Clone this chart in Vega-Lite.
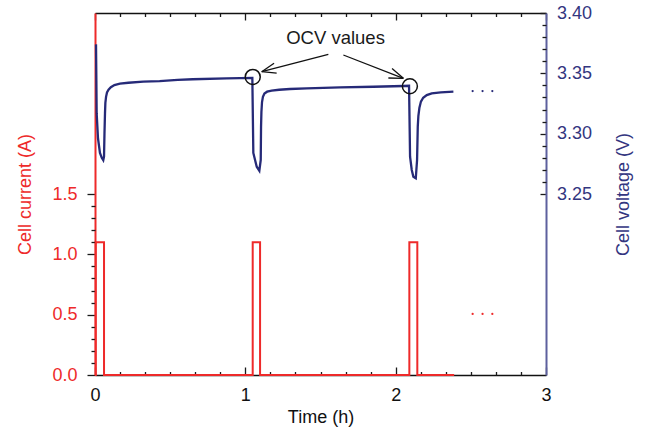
{
  "$schema": "https://vega.github.io/schema/vega-lite/v6.json",
  "width": 451,
  "height": 362,
  "autosize": {"type": "none"},
  "padding": {"left": 95, "top": 13, "right": 108, "bottom": 62},
  "config": {
    "view": {"stroke": null},
    "font": "Liberation Sans",
    "axis": {"grid": false, "labelFlush": false, "labelOverlap": false, "titleFontWeight": "normal", "labelFontSize": 18, "titleFontSize": 18, "tickWidth": 1.3, "tickColor": "#1a1a1a"}
  },
  "resolve": {"scale": {"y": "independent"}, "axis": {"x": "independent", "y": "independent"}},
  "layer": [
    {
      "resolve": {"axis": {"x": "independent", "y": "independent"}},
      "layer": [
        {
          "data": {"values": [
            {"i": 0, "t": 0, "I": 0},
            {"i": 1, "t": 0.005, "I": 0},
            {"i": 2, "t": 0.005, "I": 1.1},
            {"i": 3, "t": 0.06, "I": 1.1},
            {"i": 4, "t": 0.06, "I": 0},
            {"i": 5, "t": 1.049, "I": 0},
            {"i": 6, "t": 1.049, "I": 1.1},
            {"i": 7, "t": 1.098, "I": 1.1},
            {"i": 8, "t": 1.098, "I": 0},
            {"i": 9, "t": 2.091, "I": 0},
            {"i": 10, "t": 2.091, "I": 1.1},
            {"i": 11, "t": 2.144, "I": 1.1},
            {"i": 12, "t": 2.144, "I": 0},
            {"i": 13, "t": 2.389, "I": 0}
          ]},
          "mark": {"type": "line", "color": "#ee2a2a", "strokeWidth": 2},
          "encoding": {
            "x": {"field": "t", "type": "quantitative", "scale": {"domain": [0, 3], "nice": false},
              "axis": {
                "orient": "bottom",
                "values": [0, 1, 2, 3],
                "format": "d",
                "tickSize": -8,
                "labelPadding": 19.7,
                "labelColor": "#111111",
                "domainColor": "#111111",
                "domainWidth": 1.5,
                "title": "Time (h)",
                "titleColor": "#111111",
                "titlePadding": 4
              }
            },
            "y": {"field": "I", "type": "quantitative", "scale": {"domain": [0, 3], "nice": false},
              "axis": {
                "orient": "left",
                "values": [0, 0.5, 1.0, 1.5],
                "format": ".1f",
                "tickSize": 8,
                "labelPadding": 10,
                "labelColor": "#ee2a2a",
                "domainColor": "#ee2a2a",
                "domainWidth": 2,
                "title": "Cell current (A)",
                "titleColor": "#ee2a2a",
                "titlePadding": 17
              }
            },
            "order": {"field": "i", "type": "quantitative"}
          }
        },
        {
          "data": {"values": [
            {"t": 2.512, "I": 0.506},
            {"t": 2.578, "I": 0.506},
            {"t": 2.643, "I": 0.506}
          ]},
          "mark": {"type": "point", "filled": true, "size": 5, "color": "#ee2a2a", "opacity": 1},
          "encoding": {
            "x": {"field": "t", "type": "quantitative", "scale": {"domain": [0, 3], "nice": false},
              "axis": {
                "orient": "bottom",
                "values": [0.1666667, 0.3333333, 0.5, 0.6666667, 0.8333333, 1.1666667, 1.3333333, 1.5, 1.6666667, 1.8333333, 2.1666667, 2.3333333, 2.5, 2.6666667, 2.8333333],
                "labels": false,
                "domain": false,
                "tickSize": -3.5,
                "title": null
              }
            },
            "y": {"field": "I", "type": "quantitative", "scale": {"domain": [0, 3], "nice": false},
              "axis": {
                "orient": "left",
                "values": [0.1, 0.2, 0.3, 0.4, 0.6, 0.7, 0.8, 0.9, 1.1, 1.2, 1.3, 1.4],
                "labels": false,
                "domain": false,
                "tickSize": 4,
                "title": null
              }
            }
          }
        }
      ]
    },
    {
      "resolve": {"axis": {"x": "independent", "y": "independent"}},
      "layer": [
        {
          "data": {"values": [
            {"i": 0, "t": 0.0067, "V": 3.374},
            {"i": 1, "t": 0.009, "V": 3.345},
            {"i": 2, "t": 0.011, "V": 3.317},
            {"i": 3, "t": 0.02, "V": 3.296},
            {"i": 4, "t": 0.033, "V": 3.284},
            {"i": 5, "t": 0.045, "V": 3.28},
            {"i": 6, "t": 0.055, "V": 3.278},
            {"i": 7, "t": 0.06, "V": 3.281},
            {"i": 8, "t": 0.063, "V": 3.3},
            {"i": 9, "t": 0.0665, "V": 3.317},
            {"i": 10, "t": 0.069, "V": 3.3255},
            {"i": 11, "t": 0.0735, "V": 3.3305},
            {"i": 12, "t": 0.0798, "V": 3.3342},
            {"i": 13, "t": 0.09, "V": 3.3365},
            {"i": 14, "t": 0.1055, "V": 3.3385},
            {"i": 15, "t": 0.129, "V": 3.3403},
            {"i": 16, "t": 0.166, "V": 3.3414},
            {"i": 17, "t": 0.222, "V": 3.3422},
            {"i": 18, "t": 0.321, "V": 3.3431},
            {"i": 19, "t": 0.43, "V": 3.3436},
            {"i": 20, "t": 0.55, "V": 3.3445},
            {"i": 21, "t": 0.65, "V": 3.3451},
            {"i": 22, "t": 0.876, "V": 3.3458},
            {"i": 23, "t": 1.0466, "V": 3.3462},
            {"i": 24, "t": 1.0532, "V": 3.284},
            {"i": 25, "t": 1.0758, "V": 3.2726},
            {"i": 26, "t": 1.0932, "V": 3.2693},
            {"i": 27, "t": 1.1025, "V": 3.2782},
            {"i": 28, "t": 1.1045, "V": 3.3058},
            {"i": 29, "t": 1.107, "V": 3.318},
            {"i": 30, "t": 1.111, "V": 3.3262},
            {"i": 31, "t": 1.117, "V": 3.3305},
            {"i": 32, "t": 1.127, "V": 3.3333},
            {"i": 33, "t": 1.145, "V": 3.3348},
            {"i": 34, "t": 1.175, "V": 3.3357},
            {"i": 35, "t": 1.225, "V": 3.3364},
            {"i": 36, "t": 1.297, "V": 3.337},
            {"i": 37, "t": 1.408, "V": 3.3376},
            {"i": 38, "t": 1.63, "V": 3.3384},
            {"i": 39, "t": 1.852, "V": 3.3389},
            {"i": 40, "t": 2.052, "V": 3.3395},
            {"i": 41, "t": 2.089, "V": 3.3397},
            {"i": 42, "t": 2.0958, "V": 3.2809},
            {"i": 43, "t": 2.107, "V": 3.2699},
            {"i": 44, "t": 2.1178, "V": 3.2643},
            {"i": 45, "t": 2.1338, "V": 3.263},
            {"i": 46, "t": 2.1424, "V": 3.2782},
            {"i": 47, "t": 2.147, "V": 3.3058},
            {"i": 48, "t": 2.151, "V": 3.3145},
            {"i": 49, "t": 2.158, "V": 3.3215},
            {"i": 50, "t": 2.168, "V": 3.3266},
            {"i": 51, "t": 2.183, "V": 3.3298},
            {"i": 52, "t": 2.207, "V": 3.332},
            {"i": 53, "t": 2.24, "V": 3.3334},
            {"i": 54, "t": 2.3, "V": 3.3343},
            {"i": 55, "t": 2.384, "V": 3.3348}
          ]},
          "mark": {"type": "line", "color": "#262a78", "strokeWidth": 2.3},
          "encoding": {
            "x": {"field": "t", "type": "quantitative", "scale": {"domain": [0, 3], "nice": false},
              "axis": {
                "orient": "top",
                "values": [0, 0.1666667, 0.3333333, 0.5, 0.6666667, 0.8333333, 1, 1.1666667, 1.3333333, 1.5, 1.6666667, 1.8333333, 2, 2.1666667, 2.3333333, 2.5, 2.6666667, 2.8333333, 3],
                "labels": false,
                "tickSize": {"condition": {"test": "abs(datum.value - round(datum.value)) < 0.001", "value": -7}, "value": -3.5},
                "domainColor": "#111111",
                "domainWidth": 1.5,
                "title": null
              }
            },
            "y": {"field": "V", "type": "quantitative", "scale": {"domain": [3.1, 3.4], "nice": false, "zero": false},
              "axis": {
                "orient": "right",
                "values": [3.25, 3.3, 3.35, 3.4],
                "format": ".2f",
                "tickSize": -6,
                "labelPadding": 16.6,
                "labelColor": "#33367f",
                "domainColor": "#5d609e",
                "domainWidth": 2,
                "title": "Cell voltage (V)",
                "titleColor": "#33367f",
                "titleAngle": -90,
                "titleBaseline": "top",
                "titlePadding": 23
              }
            },
            "order": {"field": "i", "type": "quantitative"}
          }
        },
        {
          "data": {"values": [
            {"t": 1.0493, "V": 3.347},
            {"t": 2.0945, "V": 3.3393}
          ]},
          "mark": {"type": "point", "shape": "circle", "filled": false, "size": 225, "stroke": "#111111", "strokeWidth": 1.5, "opacity": 1},
          "encoding": {
            "x": {"field": "t", "type": "quantitative", "scale": {"domain": [0, 3], "nice": false}, "axis": null},
            "y": {"field": "V", "type": "quantitative", "scale": {"domain": [3.1, 3.4], "nice": false, "zero": false},
              "axis": {
                "orient": "right",
                "values": [3.26, 3.27, 3.28, 3.29, 3.31, 3.32, 3.33, 3.34, 3.36, 3.37, 3.38, 3.39],
                "labels": false,
                "domain": false,
                "tickSize": -4,
                "title": null
              }
            }
          }
        },
        {
          "data": {"values": [
            {"t": 1.5522, "V": 3.36577, "t2": 1.1091, "V2": 3.35136},
            {"t": 1.1091, "V": 3.35136, "t2": 1.2083, "V2": 3.3502},
            {"t": 1.1091, "V": 3.35136, "t2": 1.191, "V2": 3.3584},
            {"t": 1.652, "V": 3.36519, "t2": 2.0512, "V2": 3.34589},
            {"t": 2.0512, "V": 3.34589, "t2": 1.976, "V2": 3.35409},
            {"t": 2.0512, "V": 3.34589, "t2": 1.9514, "V2": 3.34613}
          ]},
          "mark": {"type": "rule", "color": "#111111", "strokeWidth": 1.3},
          "encoding": {
            "x": {"field": "t", "type": "quantitative", "scale": {"domain": [0, 3], "nice": false}, "axis": null},
            "y": {"field": "V", "type": "quantitative", "scale": {"domain": [3.1, 3.4], "nice": false, "zero": false}, "axis": null},
            "x2": {"field": "t2"},
            "y2": {"field": "V2"}
          }
        },
        {
          "data": {"values": [{"t": 1.6, "V": 3.3743, "label": "OCV values"}]},
          "mark": {"type": "text", "fontSize": 18.5, "color": "#1a1a1a", "baseline": "alphabetic", "align": "center"},
          "encoding": {
            "x": {"field": "t", "type": "quantitative", "scale": {"domain": [0, 3], "nice": false}, "axis": null},
            "y": {"field": "V", "type": "quantitative", "scale": {"domain": [3.1, 3.4], "nice": false, "zero": false}, "axis": null},
            "text": {"field": "label"}
          }
        },
        {
          "data": {"values": [
            {"t": 2.512, "V": 3.3353},
            {"t": 2.578, "V": 3.3353},
            {"t": 2.643, "V": 3.3353}
          ]},
          "mark": {"type": "point", "filled": true, "size": 5, "color": "#262a78", "opacity": 1},
          "encoding": {
            "x": {"field": "t", "type": "quantitative", "scale": {"domain": [0, 3], "nice": false}, "axis": null},
            "y": {"field": "V", "type": "quantitative", "scale": {"domain": [3.1, 3.4], "nice": false, "zero": false}, "axis": null}
          }
        }
      ]
    }
  ]
}
